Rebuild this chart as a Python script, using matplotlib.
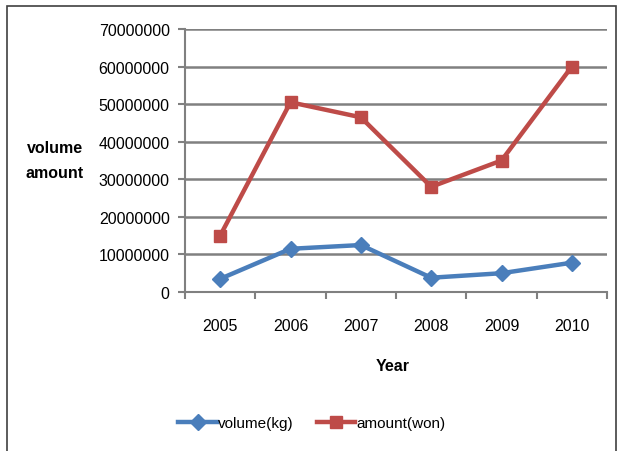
import matplotlib.pyplot as plt
from matplotlib.patches import Rectangle
import numpy as np

years = ["2005", "2006", "2007", "2008", "2009", "2010"]
volume_kg = [3500000, 11500000, 12500000, 3800000, 5000000, 7800000]
amount_won = [15000000, 50500000, 46500000, 28000000, 35000000, 60000000]
y_ticks = [0, 10000000, 20000000, 30000000, 40000000, 50000000, 60000000, 70000000]

plt.rcParams['font.family'] = ['Liberation Sans', 'DejaVu Sans']

fig = plt.figure(figsize=(6.23, 4.52), dpi=100)
ax = fig.add_axes([185 / 623, 1 - 293 / 452, 422 / 623, 263 / 452])

x = np.arange(len(years))
ax.plot(x, volume_kg, color='#4A7EBB', lw=3.2, marker='D', markersize=8,
        label='volume(kg)')
ax.plot(x, amount_won, color='#BE4B48', lw=3.2, marker='s', markersize=9,
        label='amount(won)')

ax.set_xlim(-0.5, len(years) - 0.5)
ax.set_ylim(0, 70000000)
ax.set_yticks(y_ticks)
ax.set_yticklabels([str(v) for v in y_ticks], fontsize=11.5)
ax.set_xticks(x)
ax.set_xticklabels(years, fontsize=11.5)
ax.set_xticks(np.arange(-0.5, len(years)), minor=True)
ax.tick_params(axis='x', which='major', length=0, pad=19)
ax.tick_params(axis='x', which='minor', length=5, width=1.5, color='#808080')
ax.tick_params(axis='y', length=5, width=1.5, color='#808080', pad=6)

ax.grid(axis='y', color='#808080', lw=1.8)
ax.set_axisbelow(True)
for side in ['top', 'right']:
    ax.spines[side].set_visible(False)
for side in ['left', 'bottom']:
    ax.spines[side].set_color('#808080')
    ax.spines[side].set_linewidth(1.5)

fig.text(55 / 623, 1 - 161 / 452, "volume\namount", fontsize=11.5,
         fontweight='bold', ha='center', va='center', linespacing=1.9)
fig.text(393 / 623, 1 - 367 / 452, "Year", fontsize=11.5, fontweight='bold',
         ha='center', va='center')

fig.legend(loc='center', bbox_to_anchor=(312 / 623, 1 - 424 / 452), ncol=2,
           frameon=False, fontsize=11, handlelength=2.5, handletextpad=0.1,
           columnspacing=1.5)

fig.patches.append(Rectangle((7 / 623, -0.01), 609 / 623, 1 - 7 / 452 + 0.01,
                             transform=fig.transFigure, fill=False,
                             edgecolor='#404040', lw=1.2))

fig.savefig('out.png', dpi=100)
